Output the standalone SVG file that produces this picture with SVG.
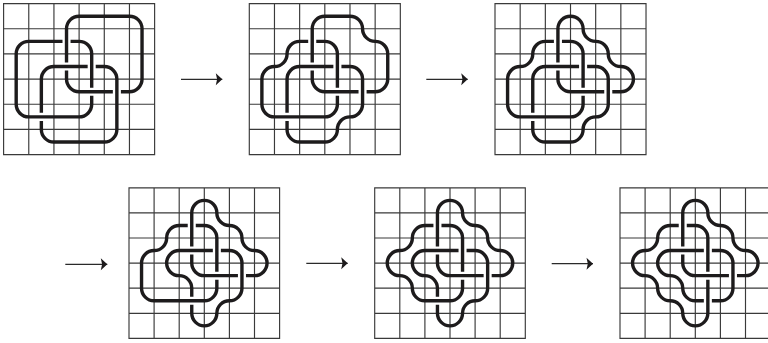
<svg xmlns="http://www.w3.org/2000/svg" width="768" height="343" viewBox="0 0 768 343">
<style>
.g{fill:none;stroke:#3a3a3a;stroke-width:.046}
.s{fill:none;stroke:#1d1b1c;stroke-width:.135;stroke-linecap:butt}
.c{fill:none;stroke:#2a2a2a;stroke-width:1.2}
</style>
<defs>
<marker id="ah" markerUnits="userSpaceOnUse" markerWidth="8" markerHeight="14" refX="7" refY="7" orient="auto"><path d="M0.5 1 L7 7 L0.5 13 L1.8 7Z" fill="#1d1b1c"/></marker>
<path id="grid" class="g" d="M0 0H6V6H0ZM1 0V6M2 0V6M3 0V6M4 0V6M5 0V6M0 1H6M0 2H6M0 3H6M0 4H6M0 5H6"/>
</defs>
<rect width="768" height="343" fill="#fff"/>
<g id="panel1" transform="translate(3.6 3.6) scale(25.17)">
<use href="#grid"/>
<path class="s" d="M2.5 2.34V1A.5 .5 0 0 1 3 .5H5A.5 .5 0 0 1 5.5 1V3A.5 .5 0 0 1 5 3.5H4.66M4.34 3.5H3A.5 .5 0 0 1 2.5 3V2.66"/>
<path class="s" d="M2.66 1.5H3A.5 .5 0 0 1 3.5 2V3.34M3.5 3.66V4A.5 .5 0 0 1 3 4.5H1A.5 .5 0 0 1 .5 4V2A.5 .5 0 0 1 1 1.5H2.34"/>
<path class="s" d="M3.66 2.5H4A.5 .5 0 0 1 4.5 3V5A.5 .5 0 0 1 4 5.5H2A.5 .5 0 0 1 1.5 5V4.66M1.5 4.34V3A.5 .5 0 0 1 2 2.5H3.34"/>
</g>
<g id="panel2" transform="translate(249.3 3.6) scale(25.17)">
<use href="#grid"/>
<path class="s" d="M2.5 2.34V1A.5 .5 0 0 1 3 .5H4A.5 .5 0 0 1 4.5 1A.5 .5 0 0 0 5 1.5A.5 .5 0 0 1 5.5 2V3A.5 .5 0 0 1 5 3.5H4.66M4.34 3.5H3A.5 .5 0 0 1 2.5 3V2.66"/>
<path class="s" d="M2.66 1.5H3A.5 .5 0 0 1 3.5 2V3.34M3.5 3.66V4A.5 .5 0 0 1 3 4.5H1A.5 .5 0 0 1 .5 4V3A.5 .5 0 0 1 1 2.5A.5 .5 0 0 0 1.5 2A.5 .5 0 0 1 2 1.5H2.34"/>
<path class="s" d="M3.66 2.5H4A.5 .5 0 0 1 4.5 3V4A.5 .5 0 0 1 4 4.5A.5 .5 0 0 0 3.5 5A.5 .5 0 0 1 3 5.5H2A.5 .5 0 0 1 1.5 5V4.66M1.5 4.34V3A.5 .5 0 0 1 2 2.5H3.34"/>
</g>
<g id="panel3" transform="translate(495 3.6) scale(25.17)">
<use href="#grid"/>
<path class="s" d="M2.5 2.34V1A.5 .5 0 0 1 3.5 1A.5 .5 0 0 0 4 1.5A.5 .5 0 0 1 4.5 2A.5 .5 0 0 0 5 2.5A.5 .5 0 0 1 5 3.5H4.66M4.34 3.5H3A.5 .5 0 0 1 2.5 3V2.66"/>
<path class="s" d="M2.66 1.5H3A.5 .5 0 0 1 3.5 2V3.34M3.5 3.66V4A.5 .5 0 0 1 3 4.5H1A.5 .5 0 0 1 .5 4V3A.5 .5 0 0 1 1 2.5A.5 .5 0 0 0 1.5 2A.5 .5 0 0 1 2 1.5H2.34"/>
<path class="s" d="M3.66 2.5H4A.5 .5 0 0 1 4.5 3V4A.5 .5 0 0 1 4 4.5A.5 .5 0 0 0 3.5 5A.5 .5 0 0 1 3 5.5H2A.5 .5 0 0 1 1.5 5V4.66M1.5 4.34V3A.5 .5 0 0 1 2 2.5H3.34"/>
</g>
<g id="panel4" transform="translate(129 187.8) scale(25.1)">
<use href="#grid"/>
<path class="s" d="M2.5 2.34V1A.5 .5 0 0 1 3.5 1A.5 .5 0 0 0 4 1.5A.5 .5 0 0 1 4.5 2A.5 .5 0 0 0 5 2.5A.5 .5 0 0 1 5 3.5H4.66M4.34 3.5H3A.5 .5 0 0 1 2.5 3V2.66"/>
<path class="s" d="M2.66 1.5H3A.5 .5 0 0 1 3.5 2V3.34M3.5 3.66V4A.5 .5 0 0 1 3 4.5H1A.5 .5 0 0 1 .5 4V3A.5 .5 0 0 1 1 2.5A.5 .5 0 0 0 1.5 2A.5 .5 0 0 1 2 1.5H2.34"/>
<path class="s" d="M3.66 2.5H4A.5 .5 0 0 1 4.5 3V4A.5 .5 0 0 1 4 4.5A.5 .5 0 0 0 3.5 5A.5 .5 0 0 1 2.5 5V4.66M2.5 4.34V4A.5 .5 0 0 0 2 3.5A.5 .5 0 0 1 2 2.5H3.34"/>
</g>
<g id="panel5" transform="translate(374.7 187.8) scale(25.1)">
<use href="#grid"/>
<path class="s" d="M2.5 2.34V1A.5 .5 0 0 1 3.5 1A.5 .5 0 0 0 4 1.5A.5 .5 0 0 1 4.5 2A.5 .5 0 0 0 5 2.5A.5 .5 0 0 1 5 3.5H4.66M4.34 3.5H3A.5 .5 0 0 1 2.5 3V2.66"/>
<path class="s" d="M2.66 1.5H3A.5 .5 0 0 1 3.5 2V3.34M3.5 3.66V4A.5 .5 0 0 1 3 4.5H2A.5 .5 0 0 1 1.5 4A.5 .5 0 0 0 1 3.5A.5 .5 0 0 1 1 2.5A.5 .5 0 0 0 1.5 2A.5 .5 0 0 1 2 1.5H2.34"/>
<path class="s" d="M3.66 2.5H4A.5 .5 0 0 1 4.5 3V4A.5 .5 0 0 1 4 4.5A.5 .5 0 0 0 3.5 5A.5 .5 0 0 1 2.5 5V4.66M2.5 4.34V4A.5 .5 0 0 0 2 3.5A.5 .5 0 0 1 2 2.5H3.34"/>
</g>
<g id="panel6" transform="translate(620 187.8) scale(25.1)">
<use href="#grid"/>
<path class="s" d="M2.5 2.34V1A.5 .5 0 0 1 3.5 1A.5 .5 0 0 0 4 1.5A.5 .5 0 0 1 4.5 2A.5 .5 0 0 0 5 2.5A.5 .5 0 0 1 5 3.5H4.66M4.34 3.5H3A.5 .5 0 0 1 2.5 3V2.66"/>
<path class="s" d="M2.66 1.5H3A.5 .5 0 0 1 3.5 2V3.34M3.5 3.66V5A.5 .5 0 0 1 2.5 5A.5 .5 0 0 0 2 4.5A.5 .5 0 0 1 1.5 4A.5 .5 0 0 0 1 3.5A.5 .5 0 0 1 1 2.5A.5 .5 0 0 0 1.5 2A.5 .5 0 0 1 2 1.5H2.34"/>
<path class="s" d="M3.66 2.5H4A.5 .5 0 0 1 4.5 3V4A.5 .5 0 0 1 4 4.5H3.66M3.34 4.5H3A.5 .5 0 0 1 2.5 4A.5 .5 0 0 0 2 3.5A.5 .5 0 0 1 2 2.5H3.34"/>
</g>
<g id="connectors">
<line class="c" x1="181" y1="79.3" x2="222.3" y2="79.3" marker-end="url(#ah)"/>
<line class="c" x1="426.3" y1="79.3" x2="467.7" y2="79.3" marker-end="url(#ah)"/>
<line class="c" x1="65.3" y1="264.3" x2="107.3" y2="264.3" marker-end="url(#ah)"/>
<line class="c" x1="306.3" y1="263.3" x2="347.7" y2="263.3" marker-end="url(#ah)"/>
<line class="c" x1="551.7" y1="263.7" x2="593" y2="263.7" marker-end="url(#ah)"/>
</g>
</svg>
